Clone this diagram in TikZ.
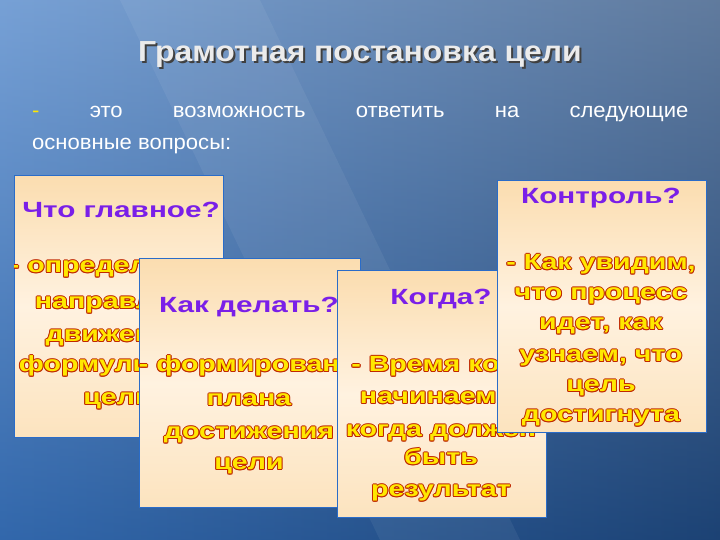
\documentclass[tikz,border=0pt]{standalone}
\usepackage{fontspec}
\setmainfont{Liberation Sans}
\usetikzlibrary{shadings}
\definecolor{bgdark}{HTML}{1C4274}
\definecolor{bglight}{HTML}{3C78C4}
\definecolor{cardA}{HTML}{FBDDB0}
\definecolor{cardB}{HTML}{FFF2E0}
\definecolor{cardedge}{HTML}{2A6CC8}
\definecolor{qpurple}{HTML}{7A1FE8}
\definecolor{tyellow}{HTML}{FFE800}
\definecolor{tred}{HTML}{C02800}
\newcommand{\outl}[4]{% x, y, text, name
  \foreach \dx/\dy in {-1/0,1/0,0/-1,0/1,-0.7/-0.7,0.7/0.7,-0.7/0.7,0.7/-0.7}{
    \node[bodytext,text=tred] at ([shift={(\dx pt,\dy pt)}]#1,#2) {#3};}
  \node[bodytext,text=tyellow] (#4) at (#1,#2) {#3};}
\tikzset{
  card/.style={draw=cardedge,line width=1.2pt,top color=cardA,bottom color=cardA!70!cardB,middle color=cardB},
  bodytext/.style={font=\bfseries\fontsize{22}{24}\selectfont,inner sep=0pt,anchor=base,xscale=1.3},
  qtext/.style={font=\bfseries\fontsize{22}{24}\selectfont,text=qpurple,inner sep=0pt,anchor=base,xscale=1.35},
}
\begin{document}
\begin{tikzpicture}[x=1pt,y=1pt]
\useasboundingbox (0,0) rectangle (720,540);
\shade[left color=bglight,right color=bgdark] (0,0) rectangle (720,540);
\shade[shading angle=60,top color=bgdark!0,bottom color=bgdark,opacity=0.3] (0,0) rectangle (720,540);
\fill[white,opacity=0.06] (120,540) -- (260,540) -- (520,0) -- (380,0) -- cycle;
% title
\node[font=\bfseries\fontsize{29}{32}\selectfont,text=black!75,anchor=base,xscale=1.1] at (362,476) {Грамотная постановка цели};
\node[font=\bfseries\fontsize{29}{32}\selectfont,text=white!92!black,anchor=base,xscale=1.1] (title) at (360,478) {Грамотная постановка цели};
\node[font=\fontsize{21}{24}\selectfont,text=white,anchor=base west,inner sep=0pt,xscale=1.05] (sub1) at (32,422) {\makebox[625pt][s]{\textcolor{tyellow}{-} это возможность ответить на следующие}};
\node[font=\fontsize{21}{24}\selectfont,text=white,anchor=base west,inner sep=0pt,xscale=1.05] (sub2) at (32,390) {основные вопросы:};
% card 1
\node[card,minimum width=209pt,minimum height=262pt,anchor=north west,inner sep=0pt] (c1) at (14,365) {};
\begin{scope}
\clip (c1.south west) rectangle (c1.north east);
\node[qtext,anchor=base west] (q1) at (22,322) {Что главное?};
\outl{112}{267}{- определение}{a1}
\outl{128}{231}{направления}{a2}
\outl{120}{198}{движения,}{a3}
\outl{126}{168}{формулировка}{a4}
\outl{118}{135}{цели}{a5}
\end{scope}
% card 2
\node[card,minimum width=221pt,minimum height=249pt,anchor=north west,inner sep=0pt] (c2) at (139,282) {};
\begin{scope}
\clip (c2.south west) rectangle (c2.north east);
\node[qtext] (q2) at (249,227) {Как делать?};
\outl{256}{168}{- формирование}{b1}
\outl{249}{134}{плана}{b2}
\outl{249}{101}{достижения}{b3}
\outl{249}{70}{цели}{b4}
\end{scope}
% card 3
\node[card,minimum width=209pt,minimum height=247pt,anchor=north west,inner sep=0pt] (c3) at (337,270) {};
\begin{scope}
\clip (c3.south west) rectangle (c3.north east);
\node[qtext] (q3) at (441,235) {Когда?};
\outl{448}{168}{- Время когда}{d1}
\outl{441}{136}{начинаем и}{d2}
\outl{441}{103}{когда должен}{d3}
\outl{441}{75}{быть}{d4}
\outl{441}{43}{результат}{d5}
\end{scope}
% card 4
\node[card,minimum width=209pt,minimum height=252pt,anchor=north west,inner sep=0pt] (c4) at (497,360) {};
\begin{scope}
\clip (c4.south west) rectangle (c4.north east);
\node[qtext] (q4) at (601,336) {Контроль?};
\outl{601}{270}{- Как увидим,}{e1}
\outl{601}{240}{что процесс}{e2}
\outl{601}{210}{идет, как}{e3}
\outl{601}{178}{узнаем, что}{e4}
\outl{601}{148}{цель}{e5}
\outl{601}{118}{достигнута}{e6}
\end{scope}
\end{tikzpicture}
\end{document}
